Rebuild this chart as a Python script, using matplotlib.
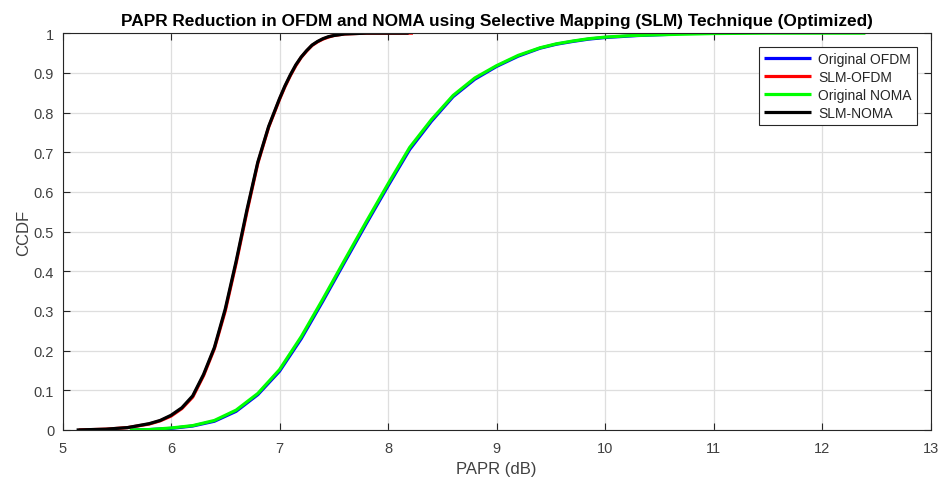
import matplotlib
matplotlib.use("Agg")
import matplotlib.pyplot as plt

plt.rcParams['font.family'] = ['Liberation Sans', 'DejaVu Sans']

# ---- data ----
orig_ofdm_x = [5.64, 5.8, 6.0, 6.2, 6.4, 6.6, 6.8, 7.0, 7.2, 7.4, 7.6, 7.8, 8.0, 8.2, 8.4,
               8.6, 8.8, 9.0, 9.2, 9.4, 9.55, 9.7, 9.85, 10.0, 10.3, 10.6]
orig_ofdm_y = [0.0, 0.001, 0.004, 0.010, 0.022, 0.047, 0.089, 0.148, 0.230, 0.325, 0.423,
               0.520, 0.615, 0.707, 0.778, 0.840, 0.884, 0.916, 0.942, 0.962, 0.972, 0.979,
               0.985, 0.989, 0.994, 0.997]

slm_ofdm_x = [5.15, 5.4, 5.6, 5.8, 5.9, 6.0, 6.1, 6.2, 6.3, 6.4, 6.5, 6.6, 6.7, 6.8, 6.9,
              7.0, 7.05, 7.1, 7.15, 7.2, 7.25, 7.3, 7.35, 7.4, 7.45, 7.5, 7.6, 7.7, 7.8, 8.23]
slm_ofdm_y = [0.0, 0.002, 0.006, 0.015, 0.023, 0.035, 0.054, 0.083, 0.137, 0.205, 0.300,
              0.420, 0.550, 0.672, 0.763, 0.833, 0.865, 0.893, 0.918, 0.939, 0.955, 0.969,
              0.978, 0.985, 0.990, 0.994, 0.998, 0.999, 1.0, 1.0]

orig_noma_x = [5.62, 5.8, 6.0, 6.2, 6.4, 6.6, 6.8, 7.0, 7.2, 7.4, 7.6, 7.8, 8.0, 8.2, 8.4,
               8.6, 8.8, 9.0, 9.2, 9.4, 9.55, 9.7, 9.85, 10.0, 10.25, 10.5, 11.0, 11.5, 12.4]
orig_noma_y = [0.0, 0.001, 0.005, 0.011, 0.024, 0.050, 0.092, 0.152, 0.235, 0.330, 0.428,
               0.525, 0.620, 0.712, 0.782, 0.843, 0.887, 0.918, 0.944, 0.963, 0.973, 0.980,
               0.986, 0.990, 0.994, 0.996, 0.999, 1.0, 1.0]

slm_noma_x = [5.13, 5.4, 5.6, 5.8, 5.9, 6.0, 6.1, 6.2, 6.3, 6.4, 6.5, 6.6, 6.7, 6.8, 6.9,
              7.0, 7.05, 7.1, 7.15, 7.2, 7.25, 7.3, 7.35, 7.4, 7.45, 7.5, 7.6, 7.7, 7.8, 8.19]
slm_noma_y = [0.0, 0.002, 0.006, 0.016, 0.024, 0.037, 0.056, 0.086, 0.140, 0.208, 0.305,
              0.425, 0.555, 0.675, 0.765, 0.835, 0.867, 0.895, 0.920, 0.940, 0.956, 0.970,
              0.979, 0.986, 0.991, 0.994, 0.998, 0.999, 1.0, 1.0]

labels = ['Original OFDM', 'SLM-OFDM', 'Original NOMA', 'SLM-NOMA']
colors = ['#0000ff', '#ff0000', '#00ff00', '#000000']
x_ticks = [5, 6, 7, 8, 9, 10, 11, 12, 13]
y_ticks = [0, 0.1, 0.2, 0.3, 0.4, 0.5, 0.6, 0.7, 0.8, 0.9, 1]
y_ticklabels = ['0', '0.1', '0.2', '0.3', '0.4', '0.5', '0.6', '0.7', '0.8', '0.9', '1']

fig = plt.figure(figsize=(9.4, 4.81), dpi=100)
ax = fig.add_axes([0.0665, 0.104, 0.9234, 0.825])

series = [(orig_ofdm_x, orig_ofdm_y), (slm_ofdm_x, slm_ofdm_y),
          (orig_noma_x, orig_noma_y), (slm_noma_x, slm_noma_y)]
for (xs, ys), lab, col in zip(series, labels, colors):
    ax.plot(xs, ys, color=col, linewidth=2.3, label=lab, solid_capstyle='butt',
            solid_joinstyle='round')

ax.set_xlim(5, 13)
ax.set_ylim(0, 1)
ax.set_xticks(x_ticks)
ax.set_xticklabels([str(t) for t in x_ticks])
ax.set_yticks(y_ticks)
ax.set_yticklabels(y_ticklabels)
ax.grid(True, color='#dedede', linewidth=0.9)
ax.set_axisbelow(True)
ax.tick_params(direction='in', length=5, width=0.8, colors='#262626',
               labelcolor='#404040', labelsize=10.5, top=True, right=True)
ax.tick_params(axis='x', pad=8)
ax.tick_params(axis='y', pad=6)
for s in ax.spines.values():
    s.set_color('#262626')
    s.set_linewidth(0.8)

ax.set_xlabel('PAPR (dB)', fontsize=12, color='#404040', labelpad=4)
ax.set_ylabel('CCDF', fontsize=12, color='#404040', labelpad=2)
ax.set_title('PAPR Reduction in OFDM and NOMA using Selective Mapping (SLM) Technique (Optimized)',
             fontsize=12.4, fontweight='bold', pad=6)

leg = ax.legend(loc='upper right', bbox_to_anchor=(0.984, 0.966), fontsize=10,
                handlelength=3.4, handletextpad=0.5, borderpad=0.35, labelspacing=0.3,
                fancybox=False, framealpha=1, edgecolor='#262626', borderaxespad=0)
leg.get_frame().set_linewidth(0.8)
for t in leg.get_texts():
    t.set_color('#262626')

fig.savefig('out.png', dpi=100, facecolor='white')
